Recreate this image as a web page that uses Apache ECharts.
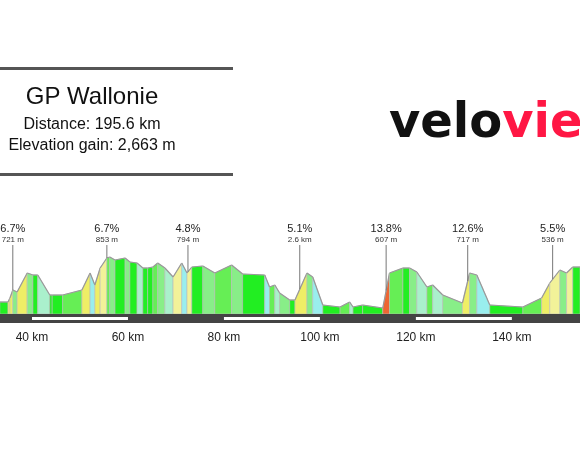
<!DOCTYPE html>
<html><head><meta charset="utf-8">
<script src="https://cdn.jsdelivr.net/npm/echarts@6/dist/echarts.min.js"></script>
<style>html,body{margin:0;padding:0;background:#fff}#c{width:580px;height:469px}</style>
</head><body><div id="c"></div>
<script>
var distKm = [33.3,35.0,35.4,36.0,36.9,39.0,40.2,41.2,43.7,44.2,46.4,50.4,52.1,53.1,54.2,55.6,56.2,57.3,59.4,60.4,61.9,63.1,64.1,65.2,66.2,67.7,69.4,71.2,72.3,73.3,75.6,78.1,81.6,83.9,88.5,89.5,90.6,91.6,93.7,94.8,97.3,98.5,100.6,104.2,106.2,106.9,108.9,113.1,114.5,117.3,118.7,120.2,122.3,123.5,125.6,129.7,131.2,132.7,135.4,142.3,146.2,147.9,150.0,151.4,152.7,154.2];
var elevM = [168,168,224,336,308,574,546,546,266,266,266,336,574,406,644,784,798,756,784,728,714,644,644,658,714,644,518,714,574,658,672,574,686,560,546,378,406,294,196,196,574,518,126,98,168,98,126,84,574,644,644,588,378,406,266,154,574,546,126,98,224,434,616,574,658,658];
var climbKm = [36.0,55.6,72.5,95.8,113.8,130.8,148.5];
var climbGrade = ['6.7%','6.7%','4.8%','5.1%','13.8%','12.6%','5.5%'];
var climbSub = ['721 m','853 m','794 m','2.6 km','607 m','717 m','536 m'];
var tickKm = [40,60,80,100,120,140];

function elevAt(k){for(var i=1;i<distKm.length;i++){if(k<=distKm[i]){var t=(k-distKm[i-1])/(distKm[i]-distKm[i-1]);return elevM[i-1]+t*(elevM[i]-elevM[i-1]);}}return elevM[elevM.length-1];}
function gradeColor(g){
  if(g>10) return '#ee6633';
  if(g>4) return '#eeee66';
  if(g>2) return '#f2f299';
  if(g>0.5) return '#66ee55';
  if(g>-0.5) return '#22ee22';
  if(g>-2) return '#88ee88';
  if(g>-4) return '#aaf0cc';
  if(g>-8) return '#99eeee';
  return '#66eeee';
}
var segs=[];
for(var i=1;i<distKm.length;i++){segs.push([distKm[i-1],elevM[i-1],distKm[i],elevM[i]]);}
var chart=echarts.init(document.getElementById('c'),null,{renderer:'canvas'});
chart.setOption({
  animation:false,
  grid:{left:0,right:0,top:214,height:100},
  xAxis:{type:'value',min:33.33,max:154.2,axisLine:{show:false},axisTick:{show:false},splitLine:{show:false},
    axisLabel:{customValues:tickKm,formatter:'{value} km',margin:18,fontSize:12,color:'#222',fontFamily:'Liberation Sans'}},
  yAxis:{type:'value',min:0,max:1400,show:false},
  graphic:[
    {type:'rect',shape:{x:0,y:67,width:233,height:3},style:{fill:'#555'}},
    {type:'rect',shape:{x:0,y:173,width:233,height:3},style:{fill:'#555'}},
    {type:'text',x:92,y:97,style:{text:'GP Wallonie',font:'24px "Liberation Sans"',fill:'#111',align:'center',verticalAlign:'middle'}},
    {type:'text',x:92,y:125,style:{text:'Distance: 195.6 km',font:'16px "Liberation Sans"',fill:'#111',align:'center',verticalAlign:'middle'}},
    {type:'text',x:92,y:146,style:{text:'Elevation gain: 2,663 m',font:'16px "Liberation Sans"',fill:'#111',align:'center',verticalAlign:'middle'}},
    {type:'text',x:389,y:125,style:{text:'{a|velo}{b|view}',rich:{a:{font:'bold 48px "DejaVu Sans"',fill:'#111',letterSpacing:-4},b:{font:'bold 48px "DejaVu Sans"',fill:'#ff1744',letterSpacing:-4}},verticalAlign:'middle'}}
  ],
  series:[
    {type:'custom',data:segs,clip:true,renderItem:function(p,api){
      var a=api.coord([api.value(0),api.value(1)]),b=api.coord([api.value(2),api.value(3)]),z=api.coord([0,0])[1];
      var g=0.35*(api.value(3)-api.value(1))/((api.value(2)-api.value(0))*1000)*100;
      return {type:'group',children:[
        {type:'polygon',shape:{points:[[a[0],z],a,b,[b[0],z]]},style:{fill:gradeColor(g),stroke:'#bbb',lineWidth:0.6}},
        {type:'line',shape:{x1:a[0],y1:a[1],x2:b[0],y2:b[1]},style:{stroke:'#999',lineWidth:1.2}}
      ]};
    }},
    {type:'custom',data:[[0]],renderItem:function(p,api){
      var z=api.coord([0,0])[1],ch=[{type:'rect',shape:{x:0,y:z,width:580,height:9},style:{fill:'#444'}}];
      for(var i=0;i<tickKm.length;i+=2){var s=api.coord([tickKm[i],0])[0],e=api.coord([tickKm[i+1],0])[0];ch.push({type:'rect',shape:{x:s,y:z+3,width:e-s,height:3},style:{fill:'#fff'}});}
      return {type:'group',children:ch};
    }},
    {type:'custom',data:climbKm.map(function(k,i){return [k,elevAt(k),i];}),renderItem:function(p,api){
      var i=api.value(2),c=api.coord([api.value(0),api.value(1)]);
      return {type:'group',children:[
        {type:'line',shape:{x1:c[0],y1:245,x2:c[0],y2:c[1]},style:{stroke:'#777',lineWidth:1}},
        {type:'text',x:c[0],y:229,style:{text:climbGrade[i],font:'11px "Liberation Sans"',fill:'#222',align:'center',verticalAlign:'middle'}},
        {type:'text',x:c[0],y:240,style:{text:climbSub[i],font:'8px "Liberation Sans"',fill:'#333',align:'center',verticalAlign:'middle'}}
      ]};
    }}
  ]
});
</script></body></html>
